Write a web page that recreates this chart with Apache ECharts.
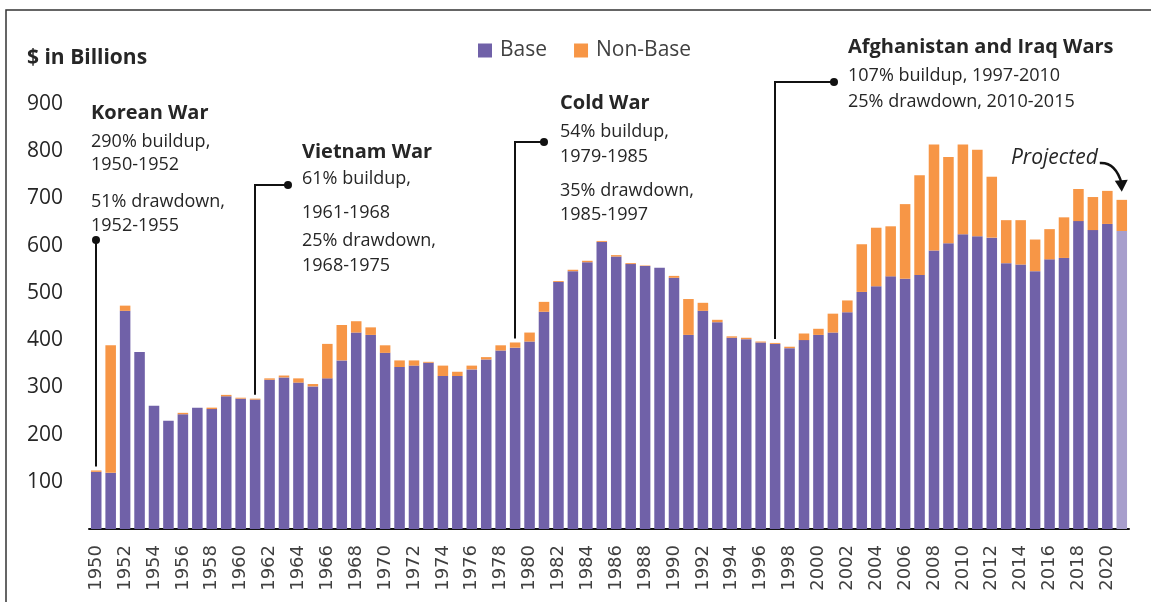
<!DOCTYPE html>
<html>
<head>
<meta charset="utf-8">
<script src="https://cdn.jsdelivr.net/npm/echarts@6/dist/echarts.min.js"></script>
<style>
  html, body { margin: 0; padding: 0; background: #fff; }
  #chart { width: 1151px; height: 602px; }
</style>
</head>
<body>
<div id="chart"></div>
<script>
// 数据
const years = []
for (let y = 1950; y <= 2021; y++) years.push(String(y))

const baseValues = [
  121, 119, 462, 375, 261, 229, 243, 257, 254, 281,
  276, 274, 316, 321, 310, 302, 319, 357, 416, 411,
  373, 343, 346, 352, 324, 324, 338, 359, 378, 384,
  397, 460, 523, 546, 565, 608, 577, 561, 557, 553,
  532, 411, 462, 438, 405, 402, 395, 392, 383, 400,
  411, 416, 459, 502, 514, 535, 530, 538, 590, 605,
  624, 620, 617, 563, 560, 546, 571, 574, 652, 633,
  646, 631
]
const nonBaseValues = [
  3, 270, 11, 0, 0, 0, 3, 0, 3, 3,
  2, 2, 3, 4, 9, 5, 73, 75, 24, 16,
  16, 14, 11, 2, 22, 9, 8, 5, 11, 11,
  19, 21, 2, 3, 3, 2, 3, 2, 1, 0,
  4, 76, 17, 5, 3, 3, 2, 2, 3, 14,
  13, 40, 25, 101, 124, 106, 158, 211, 224, 183,
  190, 183, 129, 91, 94, 67, 64, 86, 68, 70,
  70, 66
]
const projectedYear = '2021'

// 注释
const callouts = [
  { year: '1950', title: 'Korean War', x: 91, titleY: 113,
    lines: [['290% buildup,', 142], ['1950-1952', 165], ['51% drawdown,', 202], ['1952-1955', 226]],
    dot: [null, 240] },
  { year: '1961', title: 'Vietnam War', x: 302, titleY: 152,
    lines: [['61% buildup,', 179], ['1961-1968', 213], ['25% drawdown,', 241], ['1968-1975', 266]],
    dot: [288, 185] },
  { year: '1979', title: 'Cold War', x: 560, titleY: 103,
    lines: [['54% buildup,', 132], ['1979-1985', 157], ['35% drawdown,', 191], ['1985-1997', 215]],
    dot: [544, 142] },
  { year: '1997', title: 'Afghanistan and Iraq Wars', x: 848, titleY: 47,
    lines: [['107% buildup, 1997-2010', 76], ['25% drawdown, 2010-2015', 102]],
    dot: [834, 82] }
]

const PURPLE = '#7061a8'
const ORANGE = '#f79646'
const LIGHT = '#a79ecc'
const TEXT = '#262626'
const FONT = '"Open Sans"'

const chart = echarts.init(document.getElementById('chart'))

const baseData = baseValues.map((v, i) =>
  years[i] === projectedYear ? { value: v, itemStyle: { color: LIGHT } } : v)

chart.setOption({
  animation: false,
  backgroundColor: '#fff',
  grid: { left: 89, right: 22, top: 104, bottom: 73 },
  legend: {
    left: 478, top: 40, padding: 0,
    itemWidth: 14, itemHeight: 14, itemGap: 27,
    icon: 'rect',
    textStyle: { fontFamily: 'Open Sans', fontSize: 21, color: '#404040', padding: [0, 0, 0, 3] },
    data: ['Base', 'Non-Base']
  },
  xAxis: {
    type: 'category',
    data: years,
    axisLine: { lineStyle: { color: '#111', width: 2 } },
    axisTick: { show: false },
    axisLabel: {
      interval: 1, rotate: 90, margin: 16,
      fontFamily: 'DejaVu Sans', fontSize: 18, color: '#404040'
    }
  },
  yAxis: {
    type: 'value',
    min: 0, max: 900, interval: 100,
    splitLine: { show: false },
    axisLine: { show: false },
    axisTick: { show: false },
    axisLabel: {
      showMinLabel: false, align: 'left', margin: 62,
      fontFamily: 'Open Sans', fontSize: 21, color: TEXT
    }
  },
  series: [
    { name: 'Base', type: 'bar', stack: 'total', data: baseData,
      barCategoryGap: '27%', itemStyle: { color: PURPLE } },
    { name: 'Non-Base', type: 'bar', stack: 'total', data: nonBaseValues,
      itemStyle: { color: ORANGE } }
  ]
})

// 注释图形
const graphics = []

// 外框
graphics.push({ type: 'polyline', silent: true,
  shape: { points: [[6, 602], [6, 10], [1151, 10]] },
  style: { stroke: '#333', lineWidth: 1.5, fill: null } })

graphics.push({ type: 'text', x: 27, y: 58,
  style: { text: '$ in Billions', font: 'bold 21px ' + FONT, fill: TEXT, verticalAlign: 'middle' } })

callouts.forEach(c => {
  const idx = years.indexOf(c.year)
  const total = baseValues[idx] + nonBaseValues[idx]
  const p = chart.convertToPixel({ xAxisIndex: 0, yAxisIndex: 0 }, [c.year, total])
  const lx = Math.round(p[0])
  const bottom = p[1] - 4
  const pts = c.dot[0] === null
    ? [[lx, bottom], [lx, c.dot[1]]]
    : [[lx, bottom], [lx, c.dot[1]], [c.dot[0], c.dot[1]]]
  const dotX = c.dot[0] === null ? lx : c.dot[0]
  graphics.push({ type: 'polyline', silent: true,
    shape: { points: pts }, style: { stroke: '#111', lineWidth: 2, fill: null } })
  graphics.push({ type: 'circle', silent: true,
    shape: { cx: dotX, cy: c.dot[1], r: 4 }, style: { fill: '#111' } })
  graphics.push({ type: 'text', x: c.x, y: c.titleY,
    style: { text: c.title, font: 'bold 20px ' + FONT, fill: TEXT, verticalAlign: 'middle' } })
  c.lines.forEach(l => {
    graphics.push({ type: 'text', x: c.x, y: l[1],
      style: { text: l[0], font: '18px ' + FONT, fill: TEXT, verticalAlign: 'middle' } })
  })
})

// Projected 箭头
const pi = years.indexOf(projectedYear)
const pp = chart.convertToPixel({ xAxisIndex: 0, yAxisIndex: 0 },
  [projectedYear, baseValues[pi] + nonBaseValues[pi]])
const tipX = pp[0], tipY = pp[1] - 8
graphics.push({ type: 'text', x: tipX - 24, y: 158,
  style: { text: 'Projected', font: 'italic 21px ' + FONT, fill: TEXT,
    align: 'right', verticalAlign: 'middle' } })
graphics.push({ type: 'bezierCurve', silent: true,
  shape: { x1: tipX - 22, y1: 163, cpx1: tipX - 6, cpy1: 162, x2: tipX, y2: tipY - 8 },
  style: { stroke: '#111', lineWidth: 2.5, fill: null } })
graphics.push({ type: 'polygon', silent: true,
  shape: { points: [[tipX, tipY], [tipX - 7, tipY - 11], [tipX + 6, tipY - 12]] },
  style: { fill: '#111' } })

chart.setOption({ graphic: graphics })

window.addEventListener('resize', () => chart.resize())
</script>
</body>
</html>
